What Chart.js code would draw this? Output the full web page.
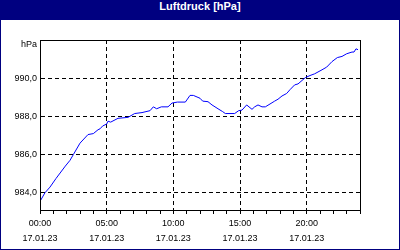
<!DOCTYPE html>
<html>
<head>
<meta charset="utf-8">
<script src="https://cdn.jsdelivr.net/npm/chart.js@4.4.1/dist/chart.umd.min.js"></script>
<style>
  html, body { margin: 0; padding: 0; background: #fff; }
  #frame { position: absolute; left: 0; top: 0; width: 400px; height: 250px; background: #000080; }
  #title { position: absolute; left: 0; top: 0; width: 400px; height: 20px; line-height: 18px;
           color: #fff; font: bold 11px "Liberation Sans", Arial, sans-serif; text-align: center; }
  #plot { position: absolute; left: 1px; top: 20px; width: 398px; height: 229px; background: #fff; }
  canvas { display: block; }
</style>
</head>
<body>
<div id="frame">
  <div id="title">Luftdruck [hPa]</div>
  <div id="plot"><canvas id="chart" width="398" height="229"></canvas></div>
</div>
<script>
// readings: hour of day (17.01.23) and pressure in hPa
var hours = [0.0, 0.37, 0.75, 1.2, 1.9, 2.25, 2.5, 3.0, 3.6, 4.0, 4.35, 4.5, 4.7, 5.0, 5.1, 5.3,
  5.85, 6.6, 7.1, 7.65, 8.25, 8.5, 8.75, 9.1, 9.6, 9.9, 10.3, 10.9, 11.25, 11.5, 12.0, 12.2,
  12.6, 12.9, 13.35, 13.7, 13.9, 14.6, 14.9, 15.15, 15.5, 15.9, 16.1, 16.35, 16.65, 16.9, 17.25,
  17.6, 17.85, 18.15, 18.5, 18.75, 19.1, 19.35, 19.9, 20.25, 20.6, 21.15, 21.5, 21.9, 22.3,
  22.65, 23.0, 23.4, 23.55, 23.7, 23.85];
var pressure = [983.55, 984.0, 984.3, 984.75, 985.4, 985.7, 986.0, 986.6, 987.05, 987.1, 987.3,
  987.35, 987.5, 987.6, 987.75, 987.7, 987.9, 987.95, 988.15, 988.2, 988.3, 988.5, 988.4, 988.5,
  988.5, 988.7, 988.75, 988.75, 989.1, 989.1, 988.95, 988.8, 988.77, 988.6, 988.4, 988.25, 988.15,
  988.15, 988.3, 988.33, 988.6, 988.37, 988.5, 988.6, 988.5, 988.5, 988.65, 988.8, 988.9, 989.07,
  989.2, 989.4, 989.65, 989.7, 990.03, 990.14, 990.23, 990.44, 990.58, 990.87, 991.08, 991.14,
  991.28, 991.37, 991.37, 991.54, 991.49];

var xTickHours = [0, 5, 10, 15, 20];
var xTickLabels = [['00:00', '17.01.23'], ['05:00', '17.01.23'], ['10:00', '17.01.23'],
  ['15:00', '17.01.23'], ['20:00', '17.01.23']];
var yTickValues = [984, 986, 988, 990];
var yUnit = 'hPa';

var tickFont = { family: '"Liberation Sans", Arial, sans-serif', size: 9 };

var points = hours.map(function(h, i) { return { x: h, y: pressure[i] }; });

// box round the plot area and the unit label above the y ticks
var framePlugin = {
  id: 'frame',
  afterDraw: function(chart) {
    var ctx = chart.ctx, a = chart.chartArea;
    ctx.save();
    ctx.strokeStyle = '#000';
    ctx.lineWidth = 1;
    ctx.strokeRect(Math.round(a.left) + 0.5, Math.round(a.top) + 0.5,
      Math.round(a.right - a.left), Math.round(a.bottom - a.top));
    ctx.fillStyle = '#000';
    ctx.font = '9px "Liberation Sans", Arial, sans-serif';
    ctx.textAlign = 'right';
    ctx.textBaseline = 'middle';
    ctx.fillText(yUnit, a.left - 3, a.top + 5);
    ctx.restore();
  }
};

new Chart(document.getElementById('chart').getContext('2d'), {
  type: 'line',
  data: {
    datasets: [{
      label: 'Luftdruck',
      data: points,
      borderColor: '#0000ff',
      borderWidth: 1,
      pointRadius: 0,
      tension: 0,
      fill: false
    }]
  },
  options: {
    responsive: false,
    animation: false,
    layout: { padding: { top: 20, right: 39, left: 0, bottom: 0 } },
    plugins: { legend: { display: false }, tooltip: { enabled: false }, title: { display: false } },
    scales: {
      x: {
        type: 'linear',
        min: 0,
        max: 24,
        afterBuildTicks: function(scale) {
          var t = [];
          for (var h = 0; h <= 24; h++) t.push({ value: h });
          scale.ticks = t;
        },
        afterFit: function(scale) { scale.height = 39; },
        ticks: {
          autoSkip: false,
          maxRotation: 0,
          padding: 2,
          color: '#000',
          font: { family: tickFont.family, size: 9, lineHeight: '15px' },
          callback: function(value) {
            var i = xTickHours.indexOf(value);
            return i >= 0 ? xTickLabels[i] : '';
          }
        },
        grid: {
          color: function(c) {
            return (c.tick && xTickHours.indexOf(c.tick.value) > 0) ? '#000' : 'rgba(0,0,0,0)';
          },
          tickColor: '#000',
          tickLength: 4,
          tickBorderDash: []
        },
        border: { color: '#000', width: 1, dash: [4, 3] }
      },
      y: {
        type: 'linear',
        min: 983.1,
        max: 992.0,
        afterBuildTicks: function(scale) {
          scale.ticks = yTickValues.map(function(v) { return { value: v }; });
        },
        afterFit: function(scale) { scale.width = 39; },
        ticks: {
          padding: 3,
          color: '#000',
          font: tickFont,
          callback: function(value) { return value.toFixed(1).replace('.', ','); }
        },
        grid: { color: '#000', drawTicks: false },
        border: { color: '#000', width: 1, dash: [4, 3] }
      }
    }
  },
  plugins: [framePlugin]
});
</script>
</body>
</html>
